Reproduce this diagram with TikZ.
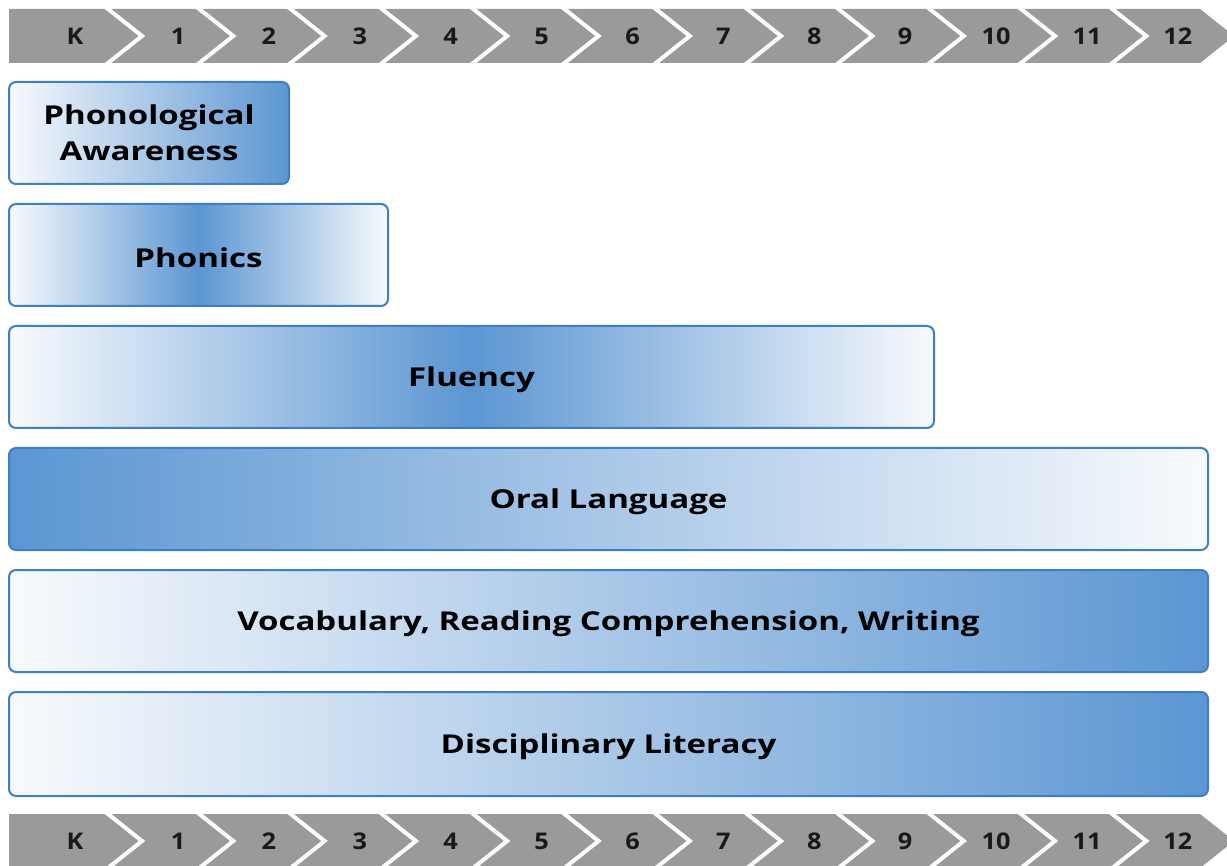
\documentclass[tikz,border=0pt]{standalone}
\usepackage{fontspec}
\setmainfont{Open Sans}
\newfontfamily\lblfont{Open Sans}[FakeStretch=1.27]
\newfontfamily\numfont{Open Sans}[FakeStretch=1.1]
\definecolor{barg}{HTML}{9A9A9A}
\definecolor{bdark}{HTML}{5B96D2}
\definecolor{blite}{HTML}{F8FAFD}
\definecolor{bline}{HTML}{3C7EC8}
\tikzset{
  box/.style={draw=bline, line width=2pt, rounded corners=7pt, inner sep=0pt, outer sep=0pt,
    font=\lblfont\fontsize{26}{36}\selectfont\bfseries, text=black, align=center},
  txt/.style={label={[yshift=-3pt, font=\lblfont\fontsize{26}{36}\selectfont\bfseries, text=black]center:#1}},
  num/.style={font=\numfont\fontsize{23}{25}\selectfont\bfseries, text=black!90},
  sep/.style={draw=white, line width=4pt},
  barfill/.style={fill=barg}
}
\begin{document}
\begin{tikzpicture}[x=1pt,y=-1pt]
\useasboundingbox (0,0) rectangle (1227,866);
\foreach \yt/\nm in {9/top,814/bot}{
  \fill[barfill] (9,\yt) -- (1200,\yt) -- (1234,{\yt+27}) -- (1200,{\yt+54}) -- (9,{\yt+54}) -- cycle;
  \foreach \k in {0,...,11}{
    \draw[sep] ({108+91.3*\k-10.2},{\yt-8.1}) -- ({108+91.3*\k},\yt) -- ({142+91.3*\k},{\yt+27}) -- ({108+91.3*\k},{\yt+54}) -- ({108+91.3*\k-10.2},{\yt+62.1});
  }
  \node[num] (\nm0) at (75,{\yt+27}) {K};
  \foreach \lab [count=\i from 1] in {1,2,3,4,5,6,7,8,9,10,11,12}{
    \node[num] (\nm\i) at ({178+90.9*(\i-1)},{\yt+27}) {\lab};
  }
}
\node[box, minimum width=280pt, minimum height=102pt, left color=blite, right color=bdark]
  (pa) at (149,133) {Phonological\\Awareness};
\node[box, minimum width=379pt, minimum height=102pt, left color=blite, right color=blite, middle color=bdark,
  txt=Phonics] (ph) at (198.5,255) {};
\node[box, minimum width=925pt, minimum height=102pt, left color=blite, right color=blite, middle color=bdark,
  txt=Fluency] (fl) at (471.5,377) {};
\node[box, minimum width=1199pt, minimum height=102pt, left color=bdark, right color=blite,
  txt={Oral Language}] (ol) at (608.5,499) {};
\node[box, minimum width=1199pt, minimum height=102pt, left color=blite, right color=bdark,
  txt={Vocabulary, Reading Comprehension, Writing}] (vo) at (608.5,621) {};
\node[box, minimum width=1199pt, minimum height=104pt, left color=blite, right color=bdark,
  txt={Disciplinary Literacy}] (dl) at (608.5,744) {};
\end{tikzpicture}
\end{document}
